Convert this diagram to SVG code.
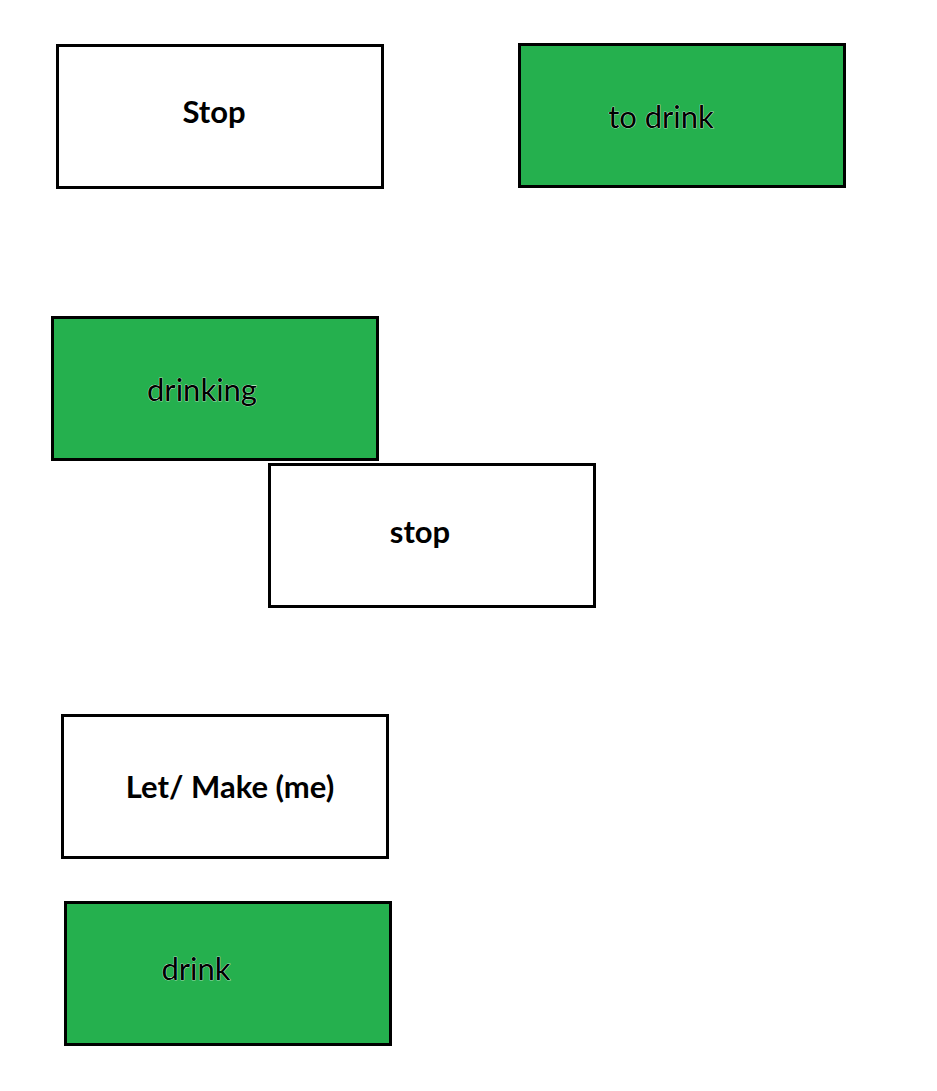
<svg xmlns="http://www.w3.org/2000/svg" width="937" height="1091" viewBox="0 0 937 1091">
<style>
.box{stroke:#000;stroke-width:3}
.w{fill:#fff}
.g{fill:#25B04E}
text{font-family:Lato,"Liberation Sans",sans-serif;font-size:31px;fill:#000;text-anchor:middle}
.b{font-weight:bold}
.r{font-weight:normal;stroke:#fff;stroke-width:0.6;paint-order:stroke}
</style>
<rect width="937" height="1091" fill="#fff"/>
<g id="node-stop1"><rect class="box w" x="57.5" y="45.5" width="325" height="142"/><text class="b" x="214" y="123">Stop</text></g>
<g id="node-todrink"><rect class="box g" x="519.5" y="44.5" width="325" height="142"/><text class="r" x="661" y="128">to drink</text></g>
<g id="node-drinking"><rect class="box g" x="52.5" y="317.5" width="325" height="142"/><text class="r" x="202" y="401">drinking</text></g>
<g id="node-stop2"><rect class="box w" x="269.5" y="464.5" width="325" height="142"/><text class="b" x="420" y="543">stop</text></g>
<g id="node-letmake"><rect class="box w" x="62.5" y="715.5" width="325" height="142"/><text class="b" x="230" y="798">Let/ Make (me)</text></g>
<g id="node-drink"><rect class="box g" x="65.5" y="902.5" width="325" height="142"/><text class="r" x="196" y="980">drink</text></g>
<g id="connectors"></g>
</svg>
